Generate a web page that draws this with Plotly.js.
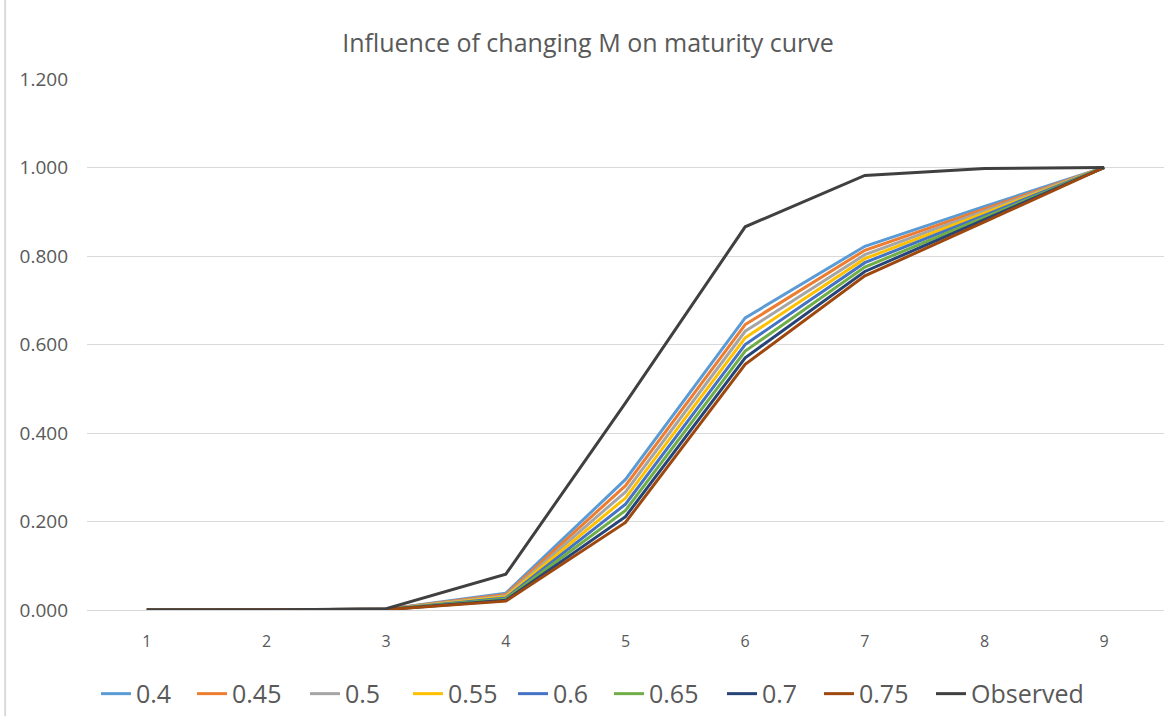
<!DOCTYPE html>
<html>
<head>
<meta charset="utf-8">
<script src="https://cdn.plot.ly/plotly-3.0.1.min.js"></script>
<style>html,body{margin:0;padding:0;background:#fff;}#chart{width:1176px;height:717px;}</style>
</head>
<body>
<div id="chart"></div>
<script>
const ages = [1, 2, 3, 4, 5, 6, 7, 8, 9];
const seriesNames = ["0.4", "0.45", "0.5", "0.55", "0.6", "0.65", "0.7", "0.75", "Observed"];
const m040 = [0, 0, 0.002, 0.038, 0.295, 0.660, 0.822, 0.912, 1.0];
const m045 = [0, 0, 0.002, 0.035, 0.281, 0.645, 0.813, 0.907, 1.0];
const m050 = [0, 0, 0.002, 0.032, 0.267, 0.630, 0.803, 0.902, 1.0];
const m055 = [0, 0, 0.001, 0.030, 0.253, 0.615, 0.794, 0.897, 1.0];
const m060 = [0, 0, 0.001, 0.027, 0.239, 0.600, 0.785, 0.892, 1.0];
const m065 = [0, 0, 0.001, 0.025, 0.225, 0.585, 0.775, 0.887, 1.0];
const m070 = [0, 0, 0.001, 0.022, 0.211, 0.570, 0.765, 0.882, 1.0];
const m075 = [0, 0, 0.001, 0.020, 0.198, 0.555, 0.755, 0.877, 1.0];
const observed = [0, 0, 0.003, 0.081, 0.468, 0.866, 0.982, 0.998, 1.0];
const seriesValues = [m040, m045, m050, m055, m060, m065, m070, m075, observed];
const colors = ["#5B9BD5", "#ED7D31", "#A5A5A5", "#FFC000", "#4472C4", "#70AD47", "#264478", "#9E480E", "#404040"];

// layout: left pixel of each legend entry (one small legend per series, like Excel's spaced legend)
const legendLeftPx = [96, 192, 305, 408, 513, 609, 722, 819, 931];
const plotLeft = 87, plotWidth = 1176 - 87 - 12;

const traces = seriesNames.map((n, i) => ({
  x: ages, y: seriesValues[i], name: n, type: "scatter", mode: "lines",
  line: {color: colors[i], width: 3},
  legend: i === 0 ? "legend" : "legend" + (i + 1)
}));

const layout = {
  width: 1176, height: 717,
  margin: {l: plotLeft, r: 12, t: 79, b: 107, autoexpand: false},
  paper_bgcolor: "#fff", plot_bgcolor: "#fff",
  font: {family: "Open Sans, Noto Sans, sans-serif", color: "#595959"},
  title: {text: "Influence of changing M on maturity curve", font: {size: 25, color: "#595959"}, x: 0.5, xanchor: "center", y: 0.94, yanchor: "middle"},
  xaxis: {range: [0.5, 9.5], tickvals: ages, ticktext: ages.map(String), showgrid: false, zeroline: false,
    showline: false, ticks: "", ticklabelstandoff: 20, tickfont: {size: 16, color: "#595959"}, fixedrange: true},
  yaxis: {range: [0, 1.2], dtick: 0.2, tick0: 0, tickformat: ".3f", gridcolor: "#D9D9D9", gridwidth: 1,
    zeroline: true, zerolinecolor: "#D9D9D9", zerolinewidth: 1, showline: false, ticks: "", ticklen: 0,
    ticklabelstandoff: 18, tickfont: {size: 19, color: "#595959"}, fixedrange: true},
  shapes: [{type: "line", xref: "paper", yref: "paper", x0: -0.076, x1: -0.076, y0: -0.2, y1: 1.15,
    line: {color: "#D9D9D9", width: 2}}],
  showlegend: true
};
legendLeftPx.forEach((px, i) => {
  const key = i === 0 ? "legend" : "legend" + (i + 1);
  layout[key] = {orientation: "h", x: (px - plotLeft) / plotWidth, xanchor: "left", y: -0.158, yanchor: "middle",
    font: {size: 25, color: "#595959"}, itemwidth: 30, bgcolor: "rgba(0,0,0,0)"};
});
Plotly.newPlot("chart", traces, layout, {displayModeBar: false, staticPlot: true});
</script>
</body>
</html>
